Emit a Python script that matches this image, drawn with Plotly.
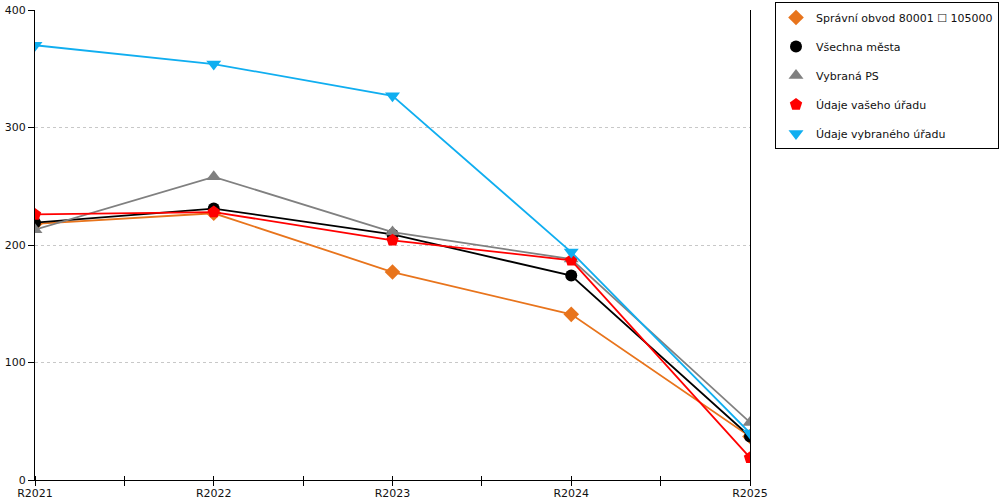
import plotly.graph_objects as go

# roky a hodnoty
years = ["R2021", "R2022", "R2023", "R2024", "R2025"]

spravni_obvod = [218, 227, 177, 141, 37]
vsechna_mesta = [219, 231, 209, 174, 37]
vybrana_ps = [213, 258, 211, 188, 49]
vas_urad = [226, 228, 204, 187, 19]
vybrany_urad = [370, 354, 327, 194, 40]

y_ticks = [0, 100, 200, 300, 400]

series = [
    ("Správní obvod 80001 \u2610 105000", spravni_obvod, "#e8741c", "diamond", 12),
    ("Všechna města", vsechna_mesta, "#000000", "circle", 12),
    ("Vybraná PS", vybrana_ps, "#808080", "triangle-up", 13),
    ("Údaje vašeho úřadu", vas_urad, "#ff0000", "pentagon", 13),
    ("Údaje vybraného úřadu", vybrany_urad, "#10aef0", "triangle-down", 13),
]

x = list(range(len(years)))
# popisky jen pod roky, carky i v polovine
tick_pos = [i / 2 for i in range(2 * len(years) - 1)]
tick_txt = [years[i // 2] if i % 2 == 0 else "" for i in range(2 * len(years) - 1)]

fig = go.Figure()
for i, (name, vals, color, symbol, size) in enumerate(series):
    # cara bez legendy
    fig.add_trace(go.Scatter(x=x, y=vals, mode="lines", line=dict(color=color, width=1.8),
                             showlegend=False, legendgroup=str(i), hoverinfo="skip"))
    # body s legendou
    fig.add_trace(go.Scatter(x=x, y=vals, mode="markers", name=name, legendgroup=str(i),
                             marker=dict(color=color, symbol=symbol, size=size, line=dict(width=0))))

fig.update_layout(
    width=1000, height=500,
    margin=dict(l=35, r=250, t=10, b=20, autoexpand=False),
    paper_bgcolor="white", plot_bgcolor="white",
    font=dict(family="DejaVu Sans", size=11, color="#111111"),
    legend=dict(
        xref="container", yref="container",
        x=0.999, xanchor="right", y=0.996, yanchor="top",
        bordercolor="black", borderwidth=1,
        tracegroupgap=10, itemwidth=30,
        font=dict(size=11, color="#111111"),
    ),
)

fig.update_xaxes(
    range=[0, 4], automargin=False,
    tickmode="array", tickvals=tick_pos, ticktext=tick_txt,
    ticks="outside", ticklen=5, tickcolor="black", ticklabelstandoff=-2,
    minor=dict(dtick=0.5, tick0=0, ticks="inside", ticklen=4, tickcolor="black", showgrid=False),
    showline=True, linecolor="black", linewidth=1,
    showgrid=False, zeroline=False,
)
fig.update_yaxes(
    range=[0, 400], automargin=False,
    tickmode="array", tickvals=y_ticks,
    ticks="outside", ticklen=6, tickcolor="black",
    showline=True, linecolor="black", linewidth=1, mirror=True,
    showgrid=True, gridcolor="#c8c8c8", griddash="dot", gridwidth=1,
    zeroline=False,
)

# bez okraje stranky, aby graf sedel v okne
fig.write_html("out.html", config={"displayModeBar": False},
               post_script="document.body.style.margin='0';")
